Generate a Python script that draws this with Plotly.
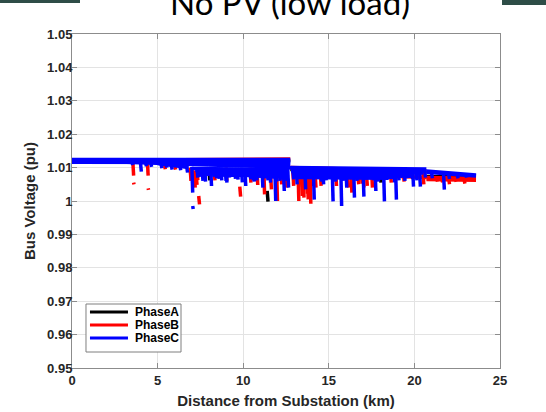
import plotly.graph_objects as go

# ---------------- data ----------------
PHASE_NAMES = ["PhaseA", "PhaseB", "PhaseC"]
PHASE_COLORS = ["#000000", "#ff0000", "#0000ff"]

X_TICKS = [0, 5, 10, 15, 20, 25]
Y_TICKS = [0.95, 0.96, 0.97, 0.98, 0.99, 1.00, 1.01, 1.02, 1.03, 1.04, 1.05]
Y_TICK_TEXT = ["0.95", "0.96", "0.97", "0.98", "0.99", "1", "1.01", "1.02", "1.03", "1.04", "1.05"]

# Phase A: line segments from bus (km, pu) to bus (km, pu)
A_FROM_KM = [0.0, 12.75, 20.7, 11.4, 8.0, 14.0, 16.4, 18.0]
A_FROM_PU = [1.0119, 1.0094, 1.0073, 1.0030, 1.0095, 1.0092, 1.0092, 1.0090]
A_TO_KM = [12.75, 20.7, 23.6, 11.45, 8.05, 14.05, 16.45, 18.05]
A_TO_PU = [1.0121, 1.0089, 1.0071, 0.9998, 1.0062, 1.0045, 1.0075, 1.0055]

# Phase B
B_FROM_KM = [0.0, 3.3, 12.75, 20.7, 20.7, 18.8, 7.0, 11.0, 13.0,
             3.55, 3.6, 4.4, 4.45, 5.4, 6.0, 6.9, 7.15, 7.4, 7.7, 8.3, 9.0, 9.8, 10.4,
             10.8, 11.2, 11.95, 12.5, 13.2, 13.5, 13.9, 14.5, 15.4, 16.3, 17.0, 17.5,
             18.6, 19.35, 20.5, 21.3, 22.0, 22.9, 15.7, 7.25, 11.6, 13.7, 16.9,
             7.1, 7.3, 12.2, 12.9, 13.4, 13.75, 14.2, 16.1, 16.7, 17.2, 21.6, 22.4]
B_FROM_PU = [1.0121, 1.0118, 1.0100, 1.0070, 1.0064, 1.0074, 1.0088, 1.0090, 1.0080,
             1.0122, 1.0055, 1.0120, 1.0038, 1.0112, 1.0110, 1.0100, 1.0070, 1.0015, 1.0100,
             1.0100, 1.0100, 1.0043, 1.0100, 1.0100, 1.0100, 1.0100, 1.0098, 1.0094, 1.0094,
             1.0094, 1.0092, 1.0092, 1.0092, 1.0090, 1.0090, 1.0088, 1.0087, 1.0086, 1.0068,
             1.0068, 1.0066, 1.0098, 1.0085, 1.0080, 1.0075, 1.0080,
             1.0085, 1.0088, 1.0092, 1.0090, 1.0075, 1.0070, 1.0085, 1.0080, 1.0075, 1.0080,
             1.0066, 1.0065]
B_TO_KM = [12.75, 12.5, 20.7, 23.6, 23.6, 20.7, 8.0, 12.2, 14.2,
           3.6, 3.62, 4.45, 4.47, 5.45, 6.05, 6.95, 7.2, 7.45, 7.75, 8.35, 9.05, 9.85, 10.45,
           10.85, 11.25, 12.0, 12.55, 13.25, 13.55, 13.95, 14.55, 15.45, 16.35, 17.05, 17.55,
           18.65, 19.4, 20.55, 21.35, 22.05, 22.95, 15.72, 7.3, 11.65, 13.75, 16.95,
           7.15, 7.35, 12.25, 12.95, 13.45, 13.8, 14.25, 16.15, 16.75, 17.25, 21.65, 22.45]
B_TO_PU = [1.0126, 1.0108, 1.0090, 1.0068, 1.0062, 1.0070, 1.0080, 1.0082, 1.0072,
           1.0076, 1.0050, 1.0076, 1.0033, 1.0095, 1.0094, 1.0060, 1.0040, 0.9990, 1.0070,
           1.0062, 1.0060, 1.0013, 1.0055, 1.0048, 1.0020, 1.0000, 1.0040, 1.0000, 1.0010,
           0.9992, 1.0045, 1.0045, 1.0025, 1.0040, 1.0040, 1.0055, 1.0058, 1.0050, 1.0058,
           1.0050, 1.0052, 1.0095, 1.0048, 1.0035, 1.0022, 1.0052,
           1.0055, 1.0062, 1.0050, 1.0045, 1.0015, 1.0005, 1.0040, 1.0040, 1.0050, 1.0045,
           1.0056, 1.0058]

# Phase C
C_FROM_KM = [0.0, 0.0, 0.0, 3.2, 5.0, 6.5, 8.0, 11.5, 12.75, 13.0, 14.0, 20.7, 20.7, 12.8,
             13.5, 7.2, 7.6, 13.0, 14.5, 7.3, 12.8, 13.2, 8.2, 7.0,
             3.5, 4.0, 4.6, 5.2, 5.8, 6.3, 6.7, 7.0, 7.05, 7.3, 7.6, 7.9, 8.1, 8.4, 8.7,
             9.0, 9.3, 9.5, 9.8, 10.1, 10.4, 10.6, 10.9, 11.1, 11.4, 11.7, 11.85, 12.1,
             12.35, 12.6, 12.9, 13.1, 13.4, 13.6, 13.85, 14.1, 14.4, 14.65, 14.9, 15.2,
             15.45, 15.7, 16.0, 16.2, 16.45, 16.7, 17.0, 17.3, 17.7, 17.95, 18.2, 18.5,
             18.9, 19.15, 19.4, 19.7, 19.9, 20.3, 20.6, 21.0, 21.7, 22.5, 23.0,
             7.45, 8.25, 8.55, 9.15, 9.65, 10.25, 10.75, 11.25, 11.55, 12.0, 12.5,
             13.25, 13.75, 14.25, 14.8, 15.05, 15.35, 15.6, 15.9, 16.35, 16.6, 16.85,
             17.15, 17.5, 17.85, 18.05, 18.35, 18.7, 19.05, 19.3, 19.55, 20.1,
             7.75, 8.95, 9.9, 10.55, 11.9, 12.2, 14.55, 15.8, 17.6, 18.8, 19.85, 22.0, 4.3, 5.5]
C_FROM_PU = [1.0124, 1.0120, 1.0116, 1.0116, 1.0112, 1.0112, 1.0108, 1.0105, 1.0100, 1.0095,
             1.0090, 1.0090, 1.0086, 1.0088, 1.0082, 1.0092, 1.0084, 1.0078, 1.0074, 1.0090,
             1.0092, 1.0070, 1.0078, 1.0097,
             1.0116, 1.0115, 1.0114, 1.0112, 1.0108, 1.0105, 1.0104, 1.0102, 0.9985, 1.0100,
             1.0100, 1.0100, 1.0100, 1.0100, 1.0100, 1.0099, 1.0099, 1.0099, 1.0099, 1.0098,
             1.0098, 1.0098, 1.0098, 1.0098, 1.0098, 1.0098, 1.0098, 1.0098, 1.0097, 1.0097,
             1.0096, 1.0096, 1.0096, 1.0096, 1.0096, 1.0096, 1.0096, 1.0096, 1.0096, 1.0096,
             1.0096, 1.0096, 1.0096, 1.0096, 1.0096, 1.0096, 1.0095, 1.0095, 1.0095, 1.0095,
             1.0095, 1.0095, 1.0095, 1.0094, 1.0093, 1.0093, 1.0092, 1.0091, 1.0090, 1.0085,
             1.0083, 1.0080, 1.0079,
             1.0100, 1.0100, 1.0100, 1.0099, 1.0099, 1.0098, 1.0098, 1.0098, 1.0098, 1.0098,
             1.0097, 1.0096, 1.0096, 1.0096, 1.0096, 1.0096, 1.0096, 1.0096, 1.0096, 1.0096,
             1.0096, 1.0096, 1.0095, 1.0095, 1.0095, 1.0095, 1.0095, 1.0095, 1.0094, 1.0094,
             1.0093, 1.0092,
             1.0100, 1.0099, 1.0099, 1.0098, 1.0098, 1.0098, 1.0096, 1.0096, 1.0095, 1.0095,
             1.0092, 1.0082, 1.0114, 1.0110]
C_TO_KM = [12.75, 12.75, 12.75, 8.0, 6.8, 12.75, 12.0, 13.0, 20.7, 20.7, 20.5, 23.6, 23.6,
           20.5, 20.0, 12.4, 12.0, 19.8, 19.0, 12.6, 20.5, 18.5, 11.8, 12.6,
           3.55, 4.05, 4.65, 5.25, 5.85, 6.35, 6.75, 7.05, 7.08, 7.35, 7.65, 7.95, 8.15, 8.45,
           8.75, 9.05, 9.35, 9.55, 9.85, 10.15, 10.45, 10.65, 10.95, 11.15, 11.45, 11.75,
           11.9, 12.15, 12.4, 12.65, 12.95, 13.15, 13.45, 13.65, 13.9, 14.15, 14.45, 14.7,
           14.95, 15.25, 15.5, 15.75, 16.05, 16.25, 16.5, 16.75, 17.05, 17.35, 17.75, 18.0,
           18.25, 18.55, 18.95, 19.2, 19.45, 19.75, 19.95, 20.35, 20.65, 21.05, 21.75, 22.55,
           23.05,
           7.5, 8.3, 8.6, 9.2, 9.7, 10.3, 10.8, 11.3, 11.6, 12.05, 12.55,
           13.3, 13.8, 14.3, 14.85, 15.1, 15.4, 15.65, 15.95, 16.4, 16.65, 16.9,
           17.2, 17.55, 17.9, 18.1, 18.4, 18.75, 19.1, 19.35, 19.6, 20.15,
           7.8, 9.0, 9.95, 10.6, 11.95, 12.25, 14.6, 15.85, 17.65, 18.85, 19.9, 22.05, 4.35, 5.55]
C_TO_PU = [1.0124, 1.0119, 1.0115, 1.0108, 1.0100, 1.0107, 1.0102, 1.0098, 1.0096, 1.0090,
           1.0086, 1.0078, 1.0075, 1.0084, 1.0079, 1.0080, 1.0072, 1.0074, 1.0070, 1.0086,
           1.0088, 1.0068, 1.0076, 1.0094,
           1.0108, 1.0088, 1.0102, 1.0098, 1.0094, 1.0092, 1.0085, 1.0025, 0.9976, 1.0070,
           1.0060, 1.0075, 1.0045, 1.0068, 1.0062, 1.0055, 1.0072, 1.0066, 1.0074, 1.0045,
           1.0065, 1.0058, 1.0070, 1.0040, 1.0062, 1.0068, 1.0000, 1.0060, 1.0030, 1.0040,
           1.0065, 1.0050, 1.0070, 1.0035, 1.0068, 1.0004, 1.0066, 1.0050, 1.0070, 0.9999,
           1.0068, 0.9985, 1.0040, 1.0072, 1.0010, 1.0066, 1.0013, 1.0070, 1.0030, 1.0068,
           0.9999, 1.0070, 1.0004, 1.0072, 1.0060, 1.0076, 1.0043, 1.0043, 1.0070, 1.0068,
           1.0034, 1.0068, 1.0070,
           1.0072, 1.0074, 1.0066, 1.0070, 1.0064, 1.0072, 1.0062, 1.0068, 1.0055, 1.0070,
           1.0060, 1.0072, 1.0066, 1.0070, 1.0062, 1.0074, 1.0058, 1.0070, 1.0065, 1.0072,
           1.0060, 1.0074, 1.0064, 1.0072, 1.0058, 1.0074, 1.0066, 1.0072, 1.0062, 1.0074,
           1.0068, 1.0062,
           1.0058, 1.0060, 1.0056, 1.0062, 1.0058, 1.0064, 1.0058, 1.0060, 1.0062, 1.0056,
           1.0066, 1.0066, 1.0104, 1.0100]

PHASE_SEGMENTS = [
    (A_FROM_KM, A_FROM_PU, A_TO_KM, A_TO_PU),
    (B_FROM_KM, B_FROM_PU, B_TO_KM, B_TO_PU),
    (C_FROM_KM, C_FROM_PU, C_TO_KM, C_TO_PU),
]

# ---------------- figure ----------------
fig = go.Figure()
for name, color, (fx, fv, tx, tv) in zip(PHASE_NAMES, PHASE_COLORS, PHASE_SEGMENTS):
    xs, ys = [], []
    for a, b, c, d in zip(fx, fv, tx, tv):
        xs += [a, c, None]
        ys += [b, d, None]
    fig.add_trace(go.Scatter(x=xs, y=ys, mode="lines", name=name, showlegend=False,
                             line=dict(color=color, width=3.5), connectgaps=False))

tick_font = dict(family="Liberation Sans", size=13, color="#262626", weight="bold")
axis_common = dict(showline=True, linecolor="#8c8c8c", linewidth=1, mirror="ticks",
                   ticks="inside", ticklen=5, tickcolor="#8c8c8c", showgrid=True,
                   gridcolor="#e3e3e3", gridwidth=1, zeroline=False, tickfont=tick_font,
                   automargin=False)

fig.update_xaxes(range=[0, 25], tickvals=X_TICKS, ticktext=[str(t) for t in X_TICKS],
                 title=dict(text="Distance from Substation (km)", standoff=8,
                            font=dict(family="Liberation Sans", size=15, color="#262626",
                                      weight="bold")),
                 **axis_common)
fig.update_yaxes(range=[0.95, 1.05], tickvals=Y_TICKS, ticktext=Y_TICK_TEXT,
                 ticklabelstandoff=-4,
                 title=dict(text="Bus Voltage (pu)", standoff=7,
                            font=dict(family="Liberation Sans", size=15, color="#262626",
                                      weight="bold")),
                 **axis_common)

# legend, drawn in the reference's compact MATLAB style
legend_rows_y = [0.1677, 0.1287, 0.0898]
legend_shapes = [dict(type="rect", xref="paper", yref="paper", x0=0.0327, x1=0.2547,
                      y0=0.0479, y1=0.1916, fillcolor="white",
                      line=dict(color="#7f7f7f", width=1), layer="above")]
legend_texts = []
for name, color, yy in zip(PHASE_NAMES, PHASE_COLORS, legend_rows_y):
    legend_shapes.append(dict(type="line", xref="paper", yref="paper", x0=0.042, x1=0.1308,
                              y0=yy, y1=yy, line=dict(color=color, width=3), layer="above"))
    legend_texts.append(dict(text=name, xref="paper", yref="paper", x=0.1425, y=yy,
                             xanchor="left", yanchor="middle", showarrow=False,
                             font=dict(family="Liberation Sans", size=12, color="#000000",
                                       weight="bold")))

fig.update_layout(
    width=546, height=412,
    margin=dict(l=72, r=46, t=34, b=44, autoexpand=False),
    paper_bgcolor="white", plot_bgcolor="white",
    showlegend=False,
    annotations=[dict(text="No PV (low load)", xref="paper", yref="paper",
                      x=0.509, y=1.031, xanchor="center", yanchor="bottom",
                      showarrow=False,
                      font=dict(family="Lato", size=33, color="#000000"))] + legend_texts,
    shapes=[
        dict(type="rect", xref="paper", yref="paper", x0=-0.1682, x1=0.0187,
             y0=1.0928, y1=1.11, fillcolor="#2e4d47", line=dict(width=0)),
        dict(type="rect", xref="paper", yref="paper", x0=1.0047, x1=1.11,
             y0=1.0868, y1=1.11, fillcolor="#2e4d47", line=dict(width=0)),
    ] + legend_shapes,
)

fig.write_html("out.html", config={"displayModeBar": False},
               post_script="document.body.style.margin='0';document.body.style.overflow='hidden';")
